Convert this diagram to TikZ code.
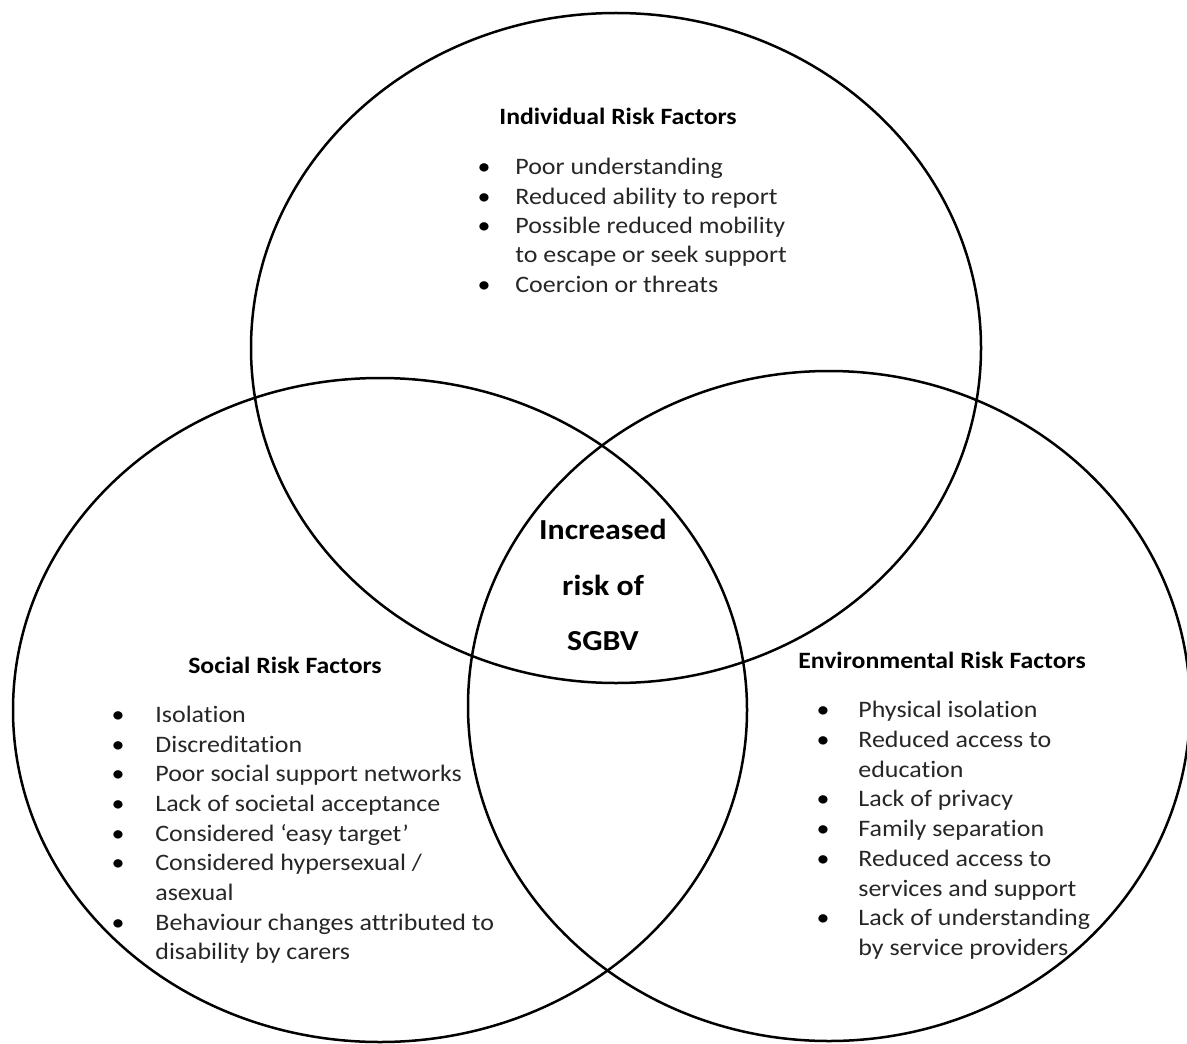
\documentclass[tikz,border=0pt]{standalone}
\usepackage{fontspec}
\newfontfamily\diagfont{Carlito}[FakeStretch=1.1,Ligatures=NoCommon]
\definecolor{bodytext}{RGB}{38,38,38}
\begin{document}
\begin{tikzpicture}[x=0.5pt,y=-0.5pt,
  ring/.style={draw=black,line width=1.25pt},
  heading/.style={anchor=base,inner sep=0pt,text=black,
    font=\diagfont\bfseries\fontsize{11.7}{14}\selectfont},
  centre/.style={anchor=base,inner sep=0pt,text=black,
    font=\diagfont\bfseries\fontsize{14.5}{17}\selectfont},
  itemtext/.style={anchor=base west,inner sep=0pt,text=bodytext,
    font=\diagfont\fontsize{11.8}{14}\selectfont},
  bulletmark/.style={anchor=base,inner sep=0pt,text=black,
    font=\diagfont\fontsize{11.8}{14}\selectfont}]
\useasboundingbox[fill=white] (0,0) rectangle (1187,1043);

% the three overlapping sets
\draw[ring] (616,348) ellipse [x radius=182.5pt, y radius=167.5pt];
\draw[ring] (380,710) ellipse [x radius=183.5pt, y radius=166pt];
\draw[ring] (829,706) ellipse [x radius=180.5pt, y radius=167.5pt];

% overlap
\node[centre] (c1) at (603,539) {Increased};
\node[centre] (c2) at (603,595) {risk of};
\node[centre] (c3) at (603,650) {SGBV};

% individual factors
\node[heading] (indT) at (618,124.5) {Individual Risk Factors};
\node[bulletmark] (indB1) at (484,175) {•};
\node[itemtext] (ind1) at (515,175) {Poor understanding};
\node[bulletmark] (indB2) at (484,204.25) {•};
\node[itemtext] (ind2) at (515,204.25) {Reduced ability to report};
\node[bulletmark] (indB3) at (484,233.5) {•};
\node[itemtext] (ind3) at (515,233.5) {Possible reduced mobility};
\node[itemtext] (ind4) at (515,262.75) {to escape or seek support};
\node[bulletmark] (indB5) at (484,292) {•};
\node[itemtext] (ind5) at (515,292) {Coercion or threats};

% social factors
\node[heading] (socT) at (285,673.5) {Social Risk Factors};
\node[bulletmark] (socB1) at (118,722.5) {•};
\node[itemtext] (soc1) at (155,722.5) {Isolation};
\node[bulletmark] (socB2) at (118,752.15) {•};
\node[itemtext] (soc2) at (155,752.15) {Discreditation};
\node[bulletmark] (socB3) at (118,781.8) {•};
\node[itemtext] (soc3) at (155,781.8) {Poor social support networks};
\node[bulletmark] (socB4) at (118,811.45) {•};
\node[itemtext] (soc4) at (155,811.45) {Lack of societal acceptance};
\node[bulletmark] (socB5) at (118,841.1) {•};
\node[itemtext] (soc5) at (155,841.1) {Considered ‘easy target’};
\node[bulletmark] (socB6) at (118,870.75) {•};
\node[itemtext] (soc6) at (155,870.75) {Considered hypersexual /};
\node[itemtext] (soc7) at (155,900.4) {asexual};
\node[bulletmark] (socB8) at (118,930.05) {•};
\node[itemtext] (soc8) at (155,930.05) {Behaviour changes attributed to};
\node[itemtext] (soc9) at (155,959.7) {disability by carers};

% environmental factors
\node[heading] (envT) at (942,668.5) {Environmental Risk Factors};
\node[bulletmark] (envB1) at (823,717.5) {•};
\node[itemtext] (env1) at (858,717.5) {Physical isolation};
\node[bulletmark] (envB2) at (823,747.25) {•};
\node[itemtext] (env2) at (858,747.25) {Reduced access to};
\node[itemtext] (env3) at (858,777) {education};
\node[bulletmark] (envB4) at (823,806.75) {•};
\node[itemtext] (env4) at (858,806.75) {Lack of privacy};
\node[bulletmark] (envB5) at (823,836.5) {•};
\node[itemtext] (env5) at (858,836.5) {Family separation};
\node[bulletmark] (envB6) at (823,866.25) {•};
\node[itemtext] (env6) at (858,866.25) {Reduced access to};
\node[itemtext] (env7) at (858,896) {services and support};
\node[bulletmark] (envB8) at (823,925.75) {•};
\node[itemtext] (env8) at (858,925.75) {Lack of understanding};
\node[itemtext] (env9) at (858,955.5) {by service providers};
\end{tikzpicture}
\end{document}
